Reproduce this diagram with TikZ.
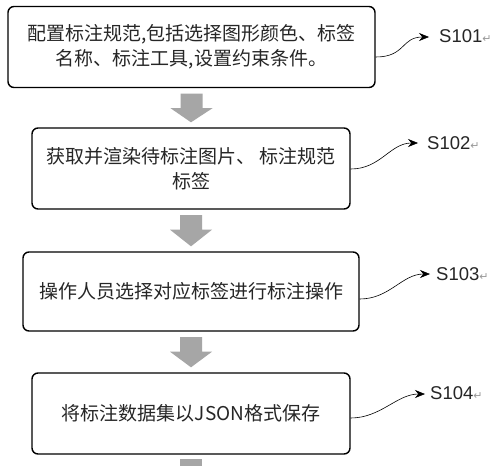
\documentclass[tikz,border=0pt]{standalone}
\usepackage{fontspec}
\setmainfont{Liberation Sans}
\newfontfamily\cjk{Noto Sans CJK SC}
\newfontfamily\symf{DejaVu Sans}
\usetikzlibrary{arrows.meta,calc}
\definecolor{arrowgray}{HTML}{A6A6A6}
\begin{document}
\begin{tikzpicture}[x=1pt,y=-1pt,
  stepbox/.style={draw=black, line width=1.4pt, rounded corners=6pt,
    font=\cjk\fontsize{19}{25.5}\selectfont, align=center, text=black!85,
    inner sep=0pt},
  steplabel/.style={anchor=west, inner sep=0pt, inner xsep=0pt,
    font=\fontsize{18.5}{20}\selectfont, text=black!85},
  wavy/.style={line width=0.6pt, -{Stealth[length=10pt,width=8pt]}}
]
\useasboundingbox (0,0) rectangle (500,466);
\fill[white] (0,0) rectangle (500,466);

\node[stepbox, minimum width=367pt, minimum height=81pt] (b1) at (191.5,47)
  {配置标注规范,包括选择图形颜色、标签\\名称、标注工具,设置约束条件。};
\node[stepbox, minimum width=318pt, minimum height=81pt] (b2) at (191,168.5)
  {获取并渲染待标注图片、 标注规范\\标签};
\node[stepbox, minimum width=336pt, minimum height=79pt] (b3) at (191,291.5)
  {操作人员选择对应标签进行标注操作};
\node[stepbox, minimum width=318pt, minimum height=81pt] (b4) at (191,413.5)
  {将标注数据集以JSON格式保存};

\newcommand\blockarrow[2]{%
  \fill[arrowgray] ($(#1.south)+(-11,5.5)$) -- ($(#1.south)+(11,5.5)$)
    -- ($(#1.south)+(11,20)$) -- ($(#1.south)+(21,20)$)
    -- ($(#2.north)+(0,-5)$) -- ($(#1.south)+(-21,20)$)
    -- ($(#1.south)+(-11,20)$) -- cycle;}
\blockarrow{b1}{b2}
\blockarrow{b2}{b3}
\blockarrow{b3}{b4}
\fill[arrowgray] ($(b4.south)+(-11,4.5)$) rectangle (202,466);

\newcommand\retmark{\textcolor{black!40}{\symf\fontsize{11}{11}\selectfont ↵}}
\node[steplabel] (s1) at (439,36) {S101\retmark};
\node[steplabel] (s2) at (427,143) {S102\retmark};
\node[steplabel] (s3) at (436,274) {S103\retmark};
\node[steplabel] (s4) at (430,393) {S104\retmark};

\coordinate (c1) at ($(b1.east)+(0,10)$);
\coordinate (c2) at ($(b2.east)+(0,0.5)$);
\coordinate (c3) at ($(b3.east)+(0,7.5)$);
\coordinate (c4) at ($(b4.east)+(0,4.5)$);

\draw[wavy] (c1) .. controls +(30,0) and +(-28,0) .. ($(s1.west)+(-10,1)$);
\draw[wavy] (c2) .. controls +(30,0) and +(-28,0) .. ($(s2.west)+(-9,0)$);
\draw[wavy] (c3) .. controls +(30,0) and +(-28,0) .. ($(s3.west)+(-6,0)$);
\draw[wavy] (c4) .. controls +(30,0) and +(-28,0) .. ($(s4.west)+(-5,1)$);
\end{tikzpicture}
\end{document}
